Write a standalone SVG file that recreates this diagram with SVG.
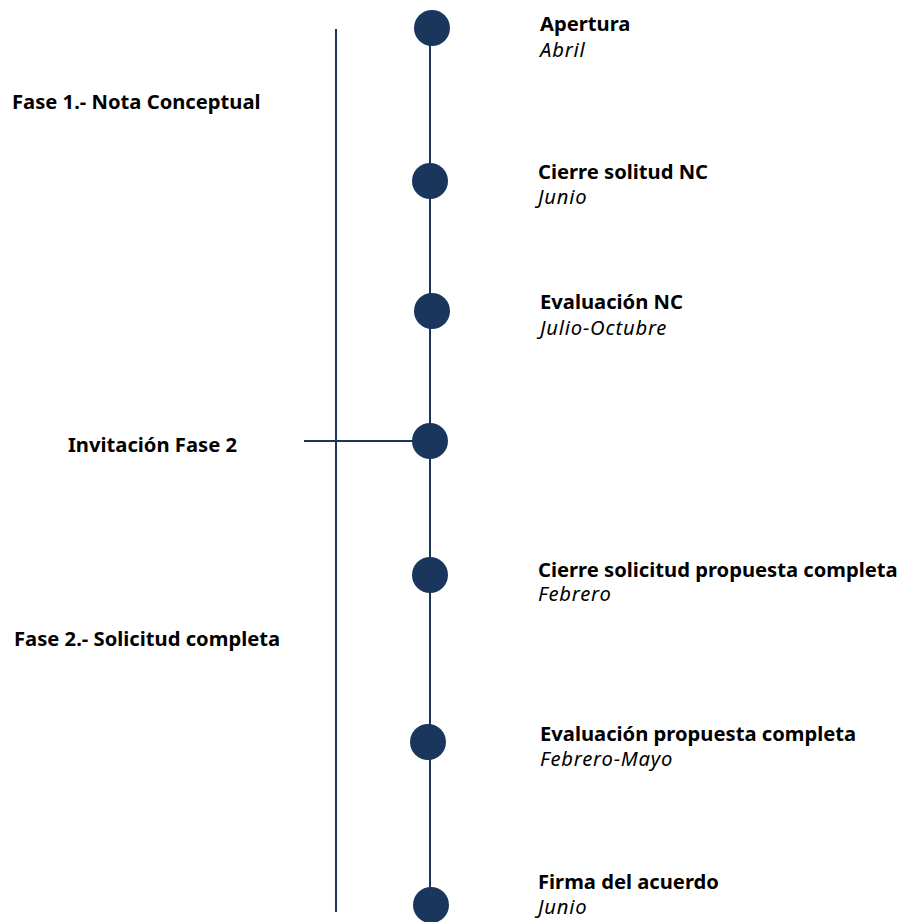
<svg xmlns="http://www.w3.org/2000/svg" width="906" height="922" viewBox="0 0 906 922">
<style>
.b{font-family:"Noto Sans","Liberation Sans",sans-serif;font-weight:bold;font-size:20.2px;fill:#000}
.i{font-family:"Noto Sans","Liberation Sans",sans-serif;font-style:italic;font-size:20.2px;letter-spacing:0.8px;fill:#000}
.ln{stroke:#1a365d;stroke-width:2;fill:none}
.dot{fill:#1a365d}
</style>
<rect width="906" height="922" fill="#fff"/>
<g id="connectors">
<line class="ln" x1="336" y1="29" x2="336" y2="912"/>
<line class="ln" x1="430" y1="28" x2="430" y2="905"/>
<line class="ln" x1="304" y1="441" x2="430" y2="441"/>
</g>
<g id="phase1"><text class="b" x="12" y="109">Fase 1.- Nota Conceptual</text></g>
<g id="invitacion"><text class="b" x="68" y="452">Invitación Fase 2</text></g>
<g id="phase2"><text class="b" x="14" y="646">Fase 2.- Solicitud completa</text></g>
<g id="apertura"><circle class="dot" cx="432" cy="28" r="18"/><text class="b" x="540" y="31">Apertura</text><text class="i" x="540" y="57">Abril</text></g>
<g id="cierre-nc"><circle class="dot" cx="430" cy="181" r="18"/><text class="b" x="538" y="179">Cierre solitud NC</text><text class="i" x="538" y="204">Junio</text></g>
<g id="eval-nc"><circle class="dot" cx="432" cy="311" r="18"/><text class="b" x="540" y="309">Evaluación NC</text><text class="i" x="540" y="335">Julio-Octubre</text></g>
<g id="invit-dot"><circle class="dot" cx="430" cy="441" r="18"/></g>
<g id="cierre-pc"><circle class="dot" cx="430" cy="575" r="18"/><text class="b" x="538" y="577">Cierre solicitud propuesta completa</text><text class="i" x="538" y="601">Febrero</text></g>
<g id="eval-pc"><circle class="dot" cx="428" cy="742" r="18"/><text class="b" x="540" y="741">Evaluación propuesta completa</text><text class="i" x="540" y="766">Febrero-Mayo</text></g>
<g id="firma"><circle class="dot" cx="431" cy="905" r="18"/><text class="b" x="538" y="889">Firma del acuerdo</text><text class="i" x="538" y="914">Junio</text></g>
</svg>
